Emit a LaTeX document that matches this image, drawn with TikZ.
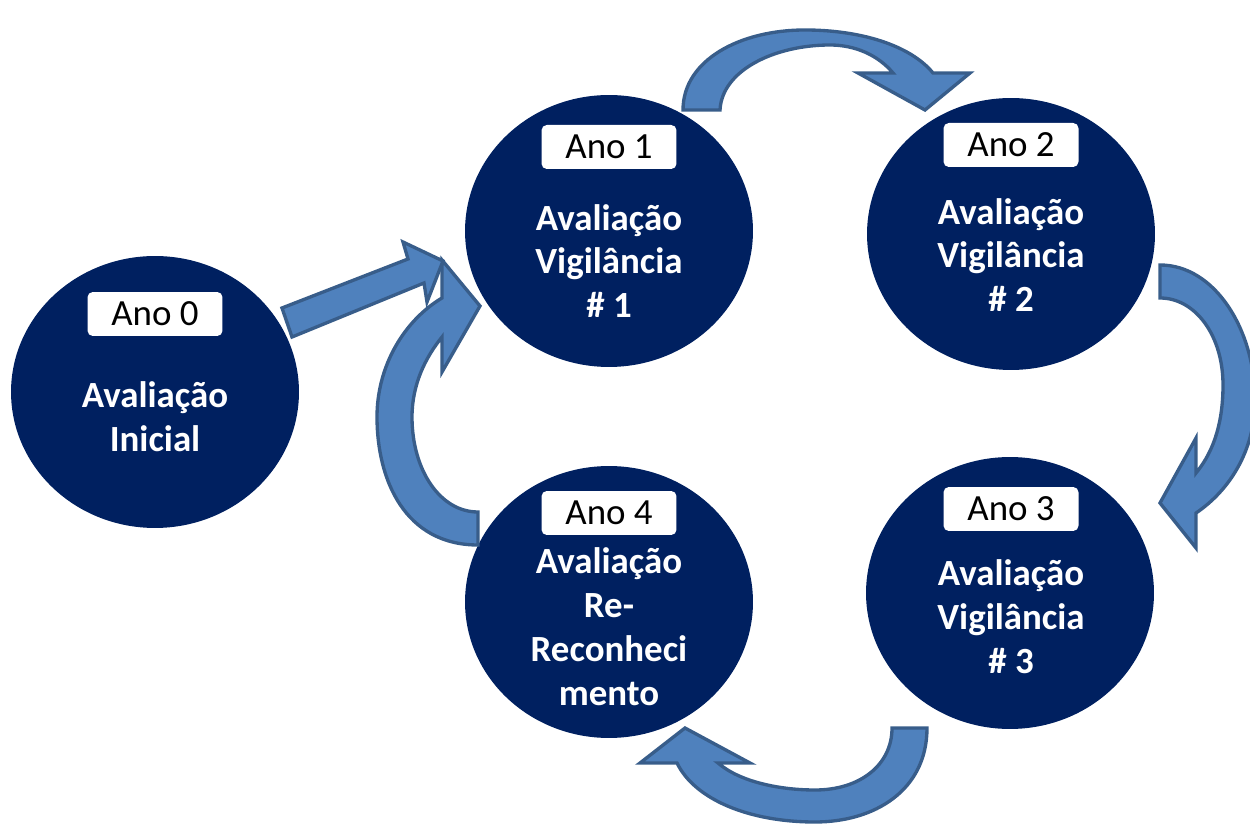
\documentclass[tikz,border=0pt]{standalone}
\usepackage{fontspec}
\setmainfont{Carlito}
\usetikzlibrary{shapes.geometric}
\definecolor{navy}{HTML}{002060}
\definecolor{arrowfill}{HTML}{4F81BD}
\definecolor{arrowline}{HTML}{385D8A}
\begin{document}
\begin{tikzpicture}[x=0.02cm,y=-0.02cm,
  stage/.style={ellipse, fill=navy, minimum width=5.76cm, minimum height=5.44cm, inner sep=0pt},
  yearbox/.style={rounded corners=3pt, fill=white, minimum width=2.7cm, minimum height=0.88cm, inner sep=0pt, text=black, font=\fontsize{21}{25}\selectfont},
  stagetext/.style={text=white, align=center, inner sep=0pt, font=\fontsize{21}{25}\selectfont\bfseries},
  blockarrow/.style={fill=arrowfill, draw=arrowline, line width=1.9pt, line join=miter}]
\useasboundingbox (0,0) rectangle (1250,830);

% stages
\node[stage] (c0) at (155,392) {};
\node[stage] (c1) at (609,231) {};
\node[stage] (c2) at (1011,234) {};
\node[stage] (c3) at (1010,593) {};
\node[stage] (c4) at (609,602) {};

% year labels
\node[yearbox] (l0) at (155,314) {Ano 0};
\node[yearbox] (l1) at (609,147) {Ano 1};
\node[yearbox] (l2) at (1011,145) {Ano 2};
\node[yearbox] (l3) at (1011,509) {Ano 3};
\node[yearbox] (l4) at (609,513) {Ano 4};

% stage texts
\node[stagetext] (t0) at (155,417) {Avaliação\\Inicial};
\node[stagetext] (t1) at (609,261) {Avaliação\\Vigilância\\\# 1};
\node[stagetext] (t2) at (1011,255) {Avaliação\\Vigilância\\\# 2};
\node[stagetext] (t3) at (1011,617) {Avaliação\\Vigilância\\\# 3};
\node[stagetext] (t4) at (609,627) {Avaliação\\Re-\\Reconheci\\mento};

% curved arrow: year 1 -> year 2
\draw[blockarrow] (683,110) .. controls (683,60) and (740,30) .. (805,30)
  .. controls (860,30) and (910,45) .. (933,73) -- (970,73) -- (925,110) -- (858,73) -- (893,73)
  .. controls (878,55) and (855,45) .. (830,45)
  .. controls (775,45) and (722,70) .. (720,110) -- cycle;

% curved arrow: year 2 -> year 3
\draw[blockarrow] (1160,265) .. controls (1215,265) and (1255,330) .. (1255,400)
  .. controls (1255,450) and (1230,490) .. (1196,513) -- (1196,548) -- (1160,503) -- (1196,438) -- (1196,473)
  .. controls (1215,450) and (1223,420) .. (1223,385)
  .. controls (1223,335) and (1195,298) .. (1160,298) -- cycle;

% curved arrow: year 3 -> year 4
\draw[blockarrow] (927,728) .. controls (927,790) and (875,822) .. (815,822)
  .. controls (750,822) and (695,800) .. (677,763) -- (640,763) -- (685,728) -- (750,763) -- (718,763)
  .. controls (740,782) and (780,790) .. (815,790)
  .. controls (860,790) and (892,765) .. (892,728) -- cycle;

% curved arrow: year 4 -> year 1
\draw[blockarrow] (478,545) .. controls (405,545) and (377,480) .. (377,417)
  .. controls (377,365) and (405,320) .. (442,298) -- (442,260) -- (480,306) -- (442,372) -- (442,337)
  .. controls (425,358) and (412,385) .. (412,417)
  .. controls (412,470) and (440,512) .. (478,512) -- cycle;

% straight arrow: year 0 -> year 1
\draw[blockarrow] (282,308) -- (408,259) -- (403,242) -- (443,261) -- (427,302) -- (424,283) -- (292,337) -- cycle;
\end{tikzpicture}
\end{document}
